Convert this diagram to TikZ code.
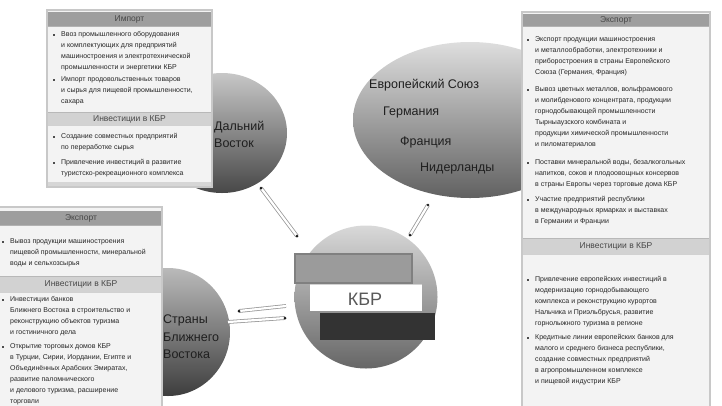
\documentclass[tikz,border=0pt]{standalone}
\usepackage{fontspec}
\setmainfont{Liberation Sans}
\usetikzlibrary{shapes.geometric}
\definecolor{hdrA}{HTML}{9E9E9E}
\definecolor{hdrB}{HTML}{D2D2D2}
\definecolor{bodyC}{HTML}{F3F3F3}
\definecolor{edgeC}{HTML}{C8C8C8}
\definecolor{flagA}{HTML}{9B9B9B}
\definecolor{flagAe}{HTML}{808080}
\definecolor{flagC}{HTML}{333333}
\definecolor{lineC}{HTML}{9A9A9A}
\tikzset{
  ball/.style={draw=none, inner sep=0pt, shading angle=45},
  txt/.style={anchor=north west, align=left, inner sep=0pt, text=black!85,
              font=\fontsize{7}{11}\selectfont},
  hdr/.style={inner sep=0pt, text=black!72, font=\fontsize{8.5}{10}\selectfont},
  lbl/.style={inner sep=0pt, align=left, text=black!88, font=\fontsize{12.5}{17.5}\selectfont},
  dbl/.style={draw=lineC, double=white, double distance=2.2pt, line width=0.8pt},
  tipd/.style={fill=black!90},
  bul/.style={fill=black!70}
}
\begin{document}
\begin{tikzpicture}[x=1pt,y=-1pt]
\useasboundingbox (0,0) rectangle (722,405);

% ---------- shaded circles ----------
\node[ball, ellipse, minimum width=130, minimum height=120,
      top color=black!22, bottom color=black!72] (asia) at (222,133) {};
\node[ball, ellipse, minimum width=234, minimum height=156,
      top color=black!13, bottom color=black!62] (eu) at (470,120) {};
\node[ball, ellipse, minimum width=124, minimum height=128,
      top color=black!27, bottom color=black!76] (me) at (168,332) {};
\node[ball, circle, minimum size=143,
      top color=black!15, bottom color=black!60] (kbr) at (366,297) {};

% ---------- labels on circles ----------
\node[lbl, anchor=north west] (asiaL) at (214,121) {Дальний\\Восток};
\node[lbl, anchor=west] (eu1) at (369,85) {Европейский Союз};
\node[lbl, anchor=west] (eu2) at (383,112) {Германия};
\node[lbl, anchor=west] (eu3) at (400,142) {Франция};
\node[lbl, anchor=west] (eu4) at (420,168) {Нидерланды};
\node[lbl, anchor=north west] (meL) at (163,315) {Страны\\Ближнего\\Востока};

% ---------- flag ----------
\draw[fill=flagA, draw=flagAe, line width=1.5] (295,254) rectangle (412,283);
\fill[white] (310,284) rectangle (422,311);
\draw[black!18, line width=1.2] (310,284.6) -- (422,284.6);
\fill[flagC] (320,313) rectangle (435,340);
\node[inner sep=0pt, text=black!65, font=\fontsize{18}{20}\selectfont] (kbrL) at (365,299) {КБР};

% ---------- connectors ----------
\coordinate (c1a) at (261,188);
\coordinate (c1b) at (297,236);
\coordinate (c2a) at (410,235);
\coordinate (c2b) at (428,205);
\coordinate (c3a) at (286,306);
\coordinate (c3b) at (239,311);
\coordinate (c4a) at (228,322);
\coordinate (c4b) at (285,318);
\draw[dbl] (c1a) -- (c1b);
\draw[dbl] (c2a) -- (c2b);
\draw[dbl] (c3a) -- (c3b);
\draw[dbl] (c4a) -- (c4b);
\fill[tipd] (c1a) circle (1.5); \fill[tipd] (c1b) circle (1.5);
\fill[tipd] (c2a) circle (1.5); \fill[tipd] (c2b) circle (1.3);
\fill[tipd] (c3b) circle (1.5);
\fill[tipd] (c4b) circle (1.5);

% ---------- top-left box ----------
\filldraw[fill=bodyC, draw=edgeC, line width=2] (47,10) rectangle (212,187);
\fill[hdrA] (48,12) rectangle (211,26);
\draw[black!30, line width=0.8] (48,26.4) -- (211,26.4);
\fill[hdrB] (48,113) rectangle (211,125);
\draw[black!28, line width=0.8] (48,112.6) -- (211,112.6);
\draw[black!18, line width=0.8] (48,125.4) -- (211,125.4);
\fill[black!16] (48,182) rectangle (211,186);
\node[hdr] (tlh1) at (129.5,19) {Импорт};
\node[hdr] (tlh2) at (129.5,119) {Инвестиции в КБР};
\fill[bul] (53,34) rectangle (55,36);
\node[txt] (tl1) at (61,31) {Ввоз промышленного оборудования\\и комплектующих для предприятий\\машиностроения и электротехнической\\промышленности и энергетики КБР};
\fill[bul] (53,79) rectangle (55,81);
\node[txt] (tl2) at (61,76) {Импорт продовольственных товаров\\и сырья для пищевой промышленности,\\сахара};
\fill[bul] (53,136) rectangle (55,138);
\node[txt] (tl3) at (61,133) {Создание совместных предприятий\\по переработке сырья};
\fill[bul] (53,162) rectangle (55,164);
\node[txt] (tl4) at (61,159) {Привлечение инвестиций в развитие\\туристско-рекреационного комплекса};

% ---------- right box ----------
\filldraw[fill=bodyC, draw=edgeC, line width=2] (522,12) rectangle (710,412);
\fill[hdrA] (523,14) rectangle (709,26);
\draw[black!30, line width=0.8] (523,26.4) -- (709,26.4);
\fill[hdrB] (523,239) rectangle (709,254);
\draw[black!28, line width=0.8] (523,238.6) -- (709,238.6);
\draw[black!18, line width=0.8] (523,254.4) -- (709,254.4);
\node[hdr] (rh1) at (616,20) {Экспорт};
\node[hdr] (rh2) at (616,246.5) {Инвестиции в КБР};
\fill[bul] (527,39) rectangle (529,41);
\node[txt] (r1) at (535,36) {Экспорт продукции машиностроения\\и металлообработки, электротехники и\\приборостроения в страны Европейского\\Союза (Германия, Франция)};
\fill[bul] (527,89) rectangle (529,91);
\node[txt] (r2) at (535,86) {Вывоз цветных металлов, вольфрамового\\и молибденового концентрата, продукции\\горнодобывающей промышленности\\Тырныаузского комбината и\\продукции химической промышленности\\и пиломатериалов};
\fill[bul] (527,162) rectangle (529,164);
\node[txt] (r3) at (535,159) {Поставки минеральной воды, безалкогольных\\напитков, соков и плодоовощных консервов\\в страны Европы через торговые дома КБР};
\fill[bul] (527,199) rectangle (529,201);
\node[txt] (r4) at (535,196) {Участие предприятий республики\\в международных ярмарках и выставках\\в Германии и Франции};
\fill[bul] (527,279) rectangle (529,281);
\node[txt] (r5) at (535,276) {Привлечение европейских инвестиций в\\модернизацию горнодобывающего\\комплекса и реконструкцию курортов\\Нальчика и Приэльбрусья, развитие\\горнолыжного туризма в регионе};
\fill[bul] (527,337) rectangle (529,339);
\node[txt] (r6) at (535,334) {Кредитные линии европейских банков для\\малого и среднего бизнеса республики,\\создание совместных предприятий\\в агропромышленном комплексе\\и пищевой индустрии КБР};

% ---------- bottom-left box ----------
\filldraw[fill=bodyC, draw=edgeC, line width=2] (-2,207) rectangle (162,412);
\fill[hdrA] (0,211) rectangle (161,225);
\draw[black!30, line width=0.8] (0,225.4) -- (161,225.4);
\fill[hdrB] (0,277) rectangle (161,292);
\draw[black!28, line width=0.8] (0,276.6) -- (161,276.6);
\draw[black!18, line width=0.8] (0,292.4) -- (161,292.4);
\node[hdr] (bh1) at (81,218) {Экспорт};
\node[hdr] (bh2) at (81,284.5) {Инвестиции в КБР};
\fill[bul] (2,241) rectangle (4,243);
\node[txt] (b1) at (10,238) {Вывоз продукции машиностроения\\пищевой промышленности, минеральной\\воды и сельхозсырья};
\fill[bul] (2,299) rectangle (4,301);
\node[txt] (b2) at (10,296) {Инвестиции банков\\Ближнего Востока в строительство и\\реконструкцию объектов туризма\\и гостиничного дела};
\fill[bul] (2,346) rectangle (4,348);
\node[txt] (b3) at (10,343) {Открытие торговых домов КБР\\в Турции, Сирии, Иордании, Египте и\\Объединённых Арабских Эмиратах,\\развитие паломнического\\и делового туризма, расширение\\торговли};
\end{tikzpicture}
\end{document}
